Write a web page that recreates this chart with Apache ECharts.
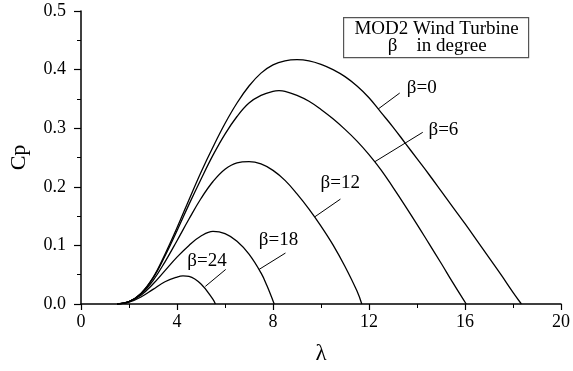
<!DOCTYPE html>
<html>
<head>
<meta charset="utf-8">
<script src="https://cdn.jsdelivr.net/npm/echarts@6/dist/echarts.min.js"></script>
<style>
  html, body { margin: 0; padding: 0; background: #fff; }
  #chart { width: 573px; height: 371px; }
</style>
</head>
<body>
<div id="chart"></div>
<script>
// Curve data (λ, Cp)
const lam0 = [1.5, 2, 2.5, 3, 3.5, 4, 4.5, 5, 5.5, 6, 6.5, 7, 7.5, 8, 8.5, 9, 9.5, 10, 10.5, 11, 11.5, 12, 12.5, 13, 13.5, 14, 14.5, 15, 15.5, 16, 16.5, 17, 17.5, 18, 18.35];
const cp0  = [0, 0.004, 0.018, 0.045, 0.085, 0.13, 0.178, 0.225, 0.268, 0.308, 0.343, 0.372, 0.394, 0.408, 0.415, 0.417, 0.415, 0.409, 0.400, 0.388, 0.372, 0.352, 0.327, 0.302, 0.275, 0.248, 0.221, 0.193, 0.165, 0.137, 0.108, 0.079, 0.050, 0.020, 0];

const lam6 = [1.5, 2, 2.5, 3, 3.5, 4, 4.5, 5, 5.5, 6, 6.5, 7, 7.5, 8, 8.25, 8.5, 9, 9.5, 10, 10.5, 11, 11.5, 12, 12.5, 13, 13.5, 14, 14.5, 15, 15.5, 16.05];
const cp6  = [0, 0.004, 0.018, 0.044, 0.082, 0.125, 0.170, 0.213, 0.254, 0.290, 0.320, 0.343, 0.356, 0.363, 0.364, 0.363, 0.356, 0.346, 0.332, 0.316, 0.298, 0.278, 0.255, 0.229, 0.199, 0.168, 0.136, 0.103, 0.070, 0.036, 0];

const lam12 = [1.5, 2, 2.5, 3, 3.5, 4, 4.5, 5, 5.5, 6, 6.5, 7, 7.5, 8, 8.5, 9, 9.5, 10, 10.5, 11, 11.5, 11.7];
const cp12  = [0, 0.004, 0.017, 0.040, 0.072, 0.108, 0.145, 0.180, 0.209, 0.230, 0.241, 0.243, 0.239, 0.228, 0.211, 0.188, 0.162, 0.133, 0.101, 0.064, 0.022, 0];

const lam18 = [1.5, 2, 2.5, 3, 3.5, 4, 4.5, 5, 5.5, 6, 6.5, 7, 7.5, 7.75, 8.05];
const cp18  = [0, 0.004, 0.015, 0.034, 0.057, 0.080, 0.100, 0.116, 0.124, 0.120, 0.107, 0.085, 0.053, 0.031, 0];

const lam24 = [1.5, 2, 2.5, 3, 3.5, 4, 4.25, 4.5, 5, 5.5, 5.6];
const cp24  = [0, 0.003, 0.012, 0.025, 0.038, 0.046, 0.048, 0.047, 0.034, 0.008, 0];

const betaNames = ['β=0', 'β=6', 'β=12', 'β=18', 'β=24'];
// label anchor (λ, Cp) and leader line ends
const labelPos  = [[14.2, 0.369], [15.1, 0.297], [10.8, 0.206], [8.23, 0.109], [5.25, 0.073]];
const leaderFrom = [[13.28, 0.360], [14.24, 0.293], [10.81, 0.179], [8.52, 0.087], [6.03, 0.059]];
const leaderTo   = [[12.39, 0.333], [12.25, 0.243], [9.75, 0.149], [7.42, 0.059], [5.18, 0.030]];

const xTicks = { min: 0, max: 20, interval: 4 };
const yTicks = { min: 0, max: 0.5, interval: 0.1 };

const curves = [[lam0, cp0], [lam6, cp6], [lam12, cp12], [lam18, cp18], [lam24, cp24]];
const font = 'Liberation Serif';

const chart = echarts.init(document.getElementById('chart'));

const series = curves.map(([lx, ly], i) => ({
    name: betaNames[i],
    type: 'line',
    data: lx.map((v, k) => [v, ly[k]]),
    smooth: 0.4,
    showSymbol: false,
    lineStyle: { color: '#000', width: 1.3 },
    silent: true,
    markPoint: {
        symbol: 'circle', symbolSize: 0,
        label: { show: true, formatter: betaNames[i], color: '#000', fontFamily: font, fontSize: 19, position: 'inside' },
        data: [{ coord: labelPos[i] }],
    },
    markLine: {
        symbol: 'none', silent: true,
        label: { show: false },
        lineStyle: { color: '#000', width: 1, type: 'solid' },
        data: [[{ coord: leaderFrom[i] }, { coord: leaderTo[i] }]],
    },
}));

chart.setOption({
    animation: false,
    grid: { left: 79, right: 8, top: 11, bottom: 67 },
    xAxis: {
        type: 'value', min: xTicks.min, max: xTicks.max, interval: xTicks.interval,
        name: 'λ', nameLocation: 'middle', nameGap: 38,
        nameTextStyle: { fontFamily: font, fontSize: 23, color: '#000' },
        axisLine: { lineStyle: { color: '#000', width: 1.5 } },
        axisTick: { show: true, length: 6, lineStyle: { color: '#000', width: 1.2 } },
        minorTick: { show: true, splitNumber: 2, length: 4, lineStyle: { color: '#000', width: 1 } },
        splitLine: { show: false },
        axisLabel: { fontFamily: font, fontSize: 18, color: '#000', margin: 9 },
    },
    yAxis: {
        type: 'value', min: yTicks.min, max: yTicks.max, interval: yTicks.interval,
        name: 'Cp', nameLocation: 'middle', nameGap: 51, nameRotate: 90,
        nameTextStyle: { fontFamily: font, fontSize: 22, color: '#000' },
        axisLine: { show: true, lineStyle: { color: '#000', width: 1.5 } },
        axisTick: { show: true, length: 7, lineStyle: { color: '#000', width: 1.2 } },
        minorTick: { show: true, splitNumber: 2, length: 4, lineStyle: { color: '#000', width: 1 } },
        splitLine: { show: false },
        axisLabel: { fontFamily: font, fontSize: 18, color: '#000', margin: 15, formatter: v => v.toFixed(1) },
    },
    graphic: [{
        type: 'group', left: 343, top: 17,
        children: [
            { type: 'rect', shape: { x: 0, y: 0, width: 185, height: 40 }, style: { fill: '#fff', stroke: '#555', lineWidth: 1.2 } },
            { type: 'text', x: 93, y: 2, style: { text: 'MOD2 Wind Turbine', font: '19px "Liberation Serif"', fill: '#000', align: 'center' } },
            { type: 'text', x: 49, y: 19, style: { text: 'β', font: '19px "Liberation Serif"', fill: '#000', align: 'center' } },
            { type: 'text', x: 108, y: 19, style: { text: 'in degree', font: '19px "Liberation Serif"', fill: '#000', align: 'center' } },
        ],
    }],
    series,
});
</script>
</body>
</html>
